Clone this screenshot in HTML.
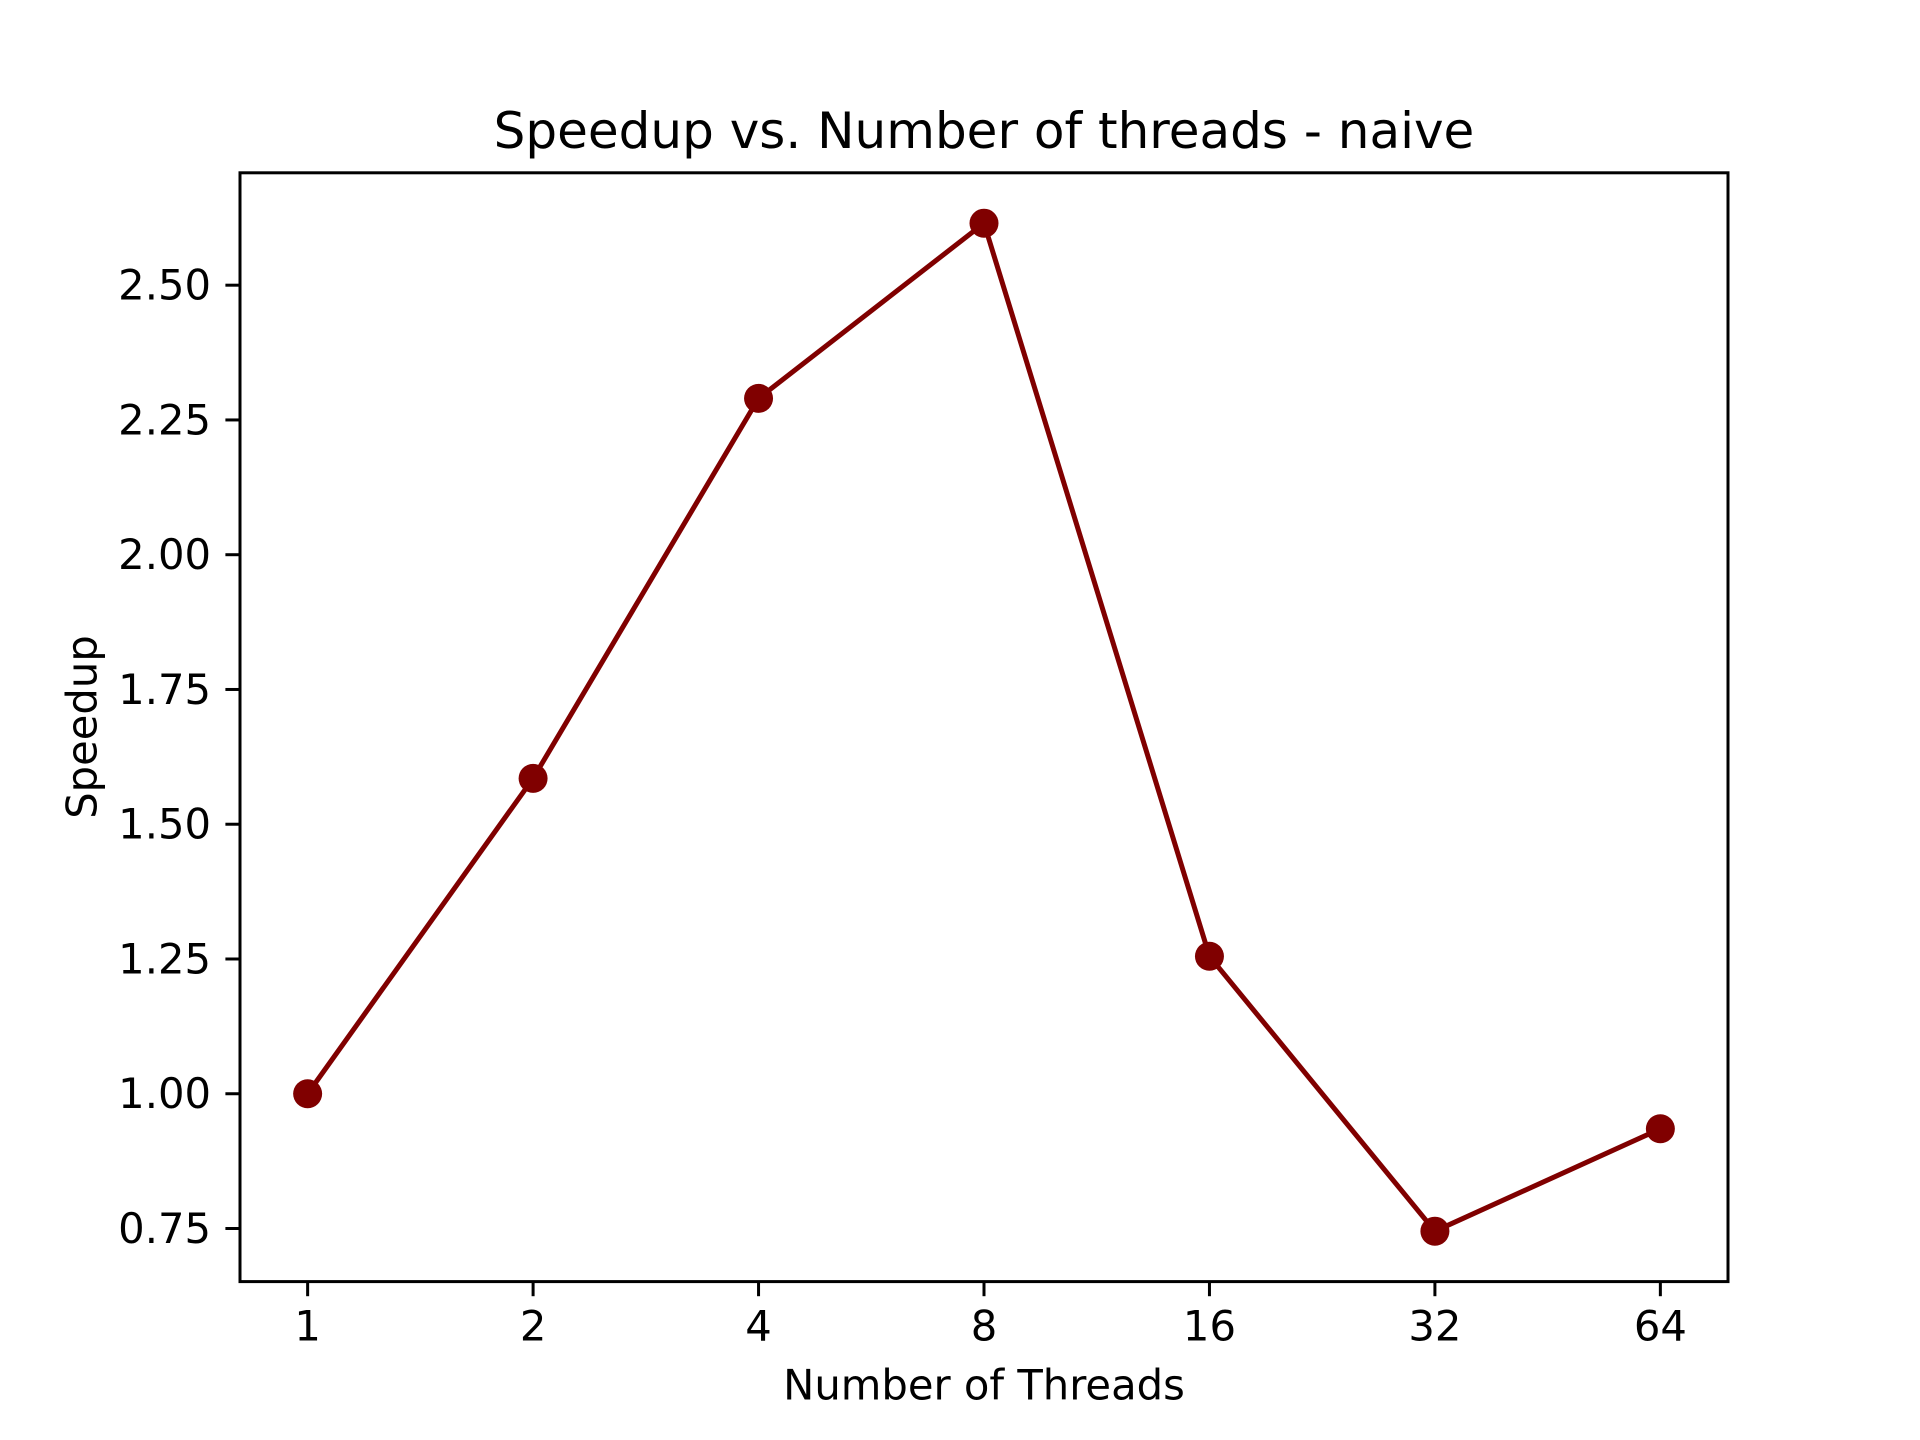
<!DOCTYPE html>
<html><head><meta charset="utf-8"><style>
html,body{margin:0;padding:0;background:#fff;}
svg{display:block;font-family:"DejaVu Sans","Liberation Sans",sans-serif;}
</style></head><body>
<svg id="chart" width="1920" height="1440" viewBox="0 0 1920 1440" xmlns="http://www.w3.org/2000/svg">
<rect width="1920" height="1440" fill="#fff"/>
<text x="984" y="131" font-size="50" text-anchor="middle" dominant-baseline="central">Speedup vs. Number of threads - naive</text>
<text x="984" y="1385" font-size="41.7" text-anchor="middle" dominant-baseline="central">Number of Threads</text>
<text x="82" y="727" font-size="41.7" text-anchor="middle" dominant-baseline="central" transform="rotate(-90 82 727)">Speedup</text>
<g id="marks"></g>
<rect x="240" y="172.8" width="1488" height="1108.8" fill="none" stroke="#000" stroke-width="3"/>
</svg>
<script>
const categories = ["1","2","4","8","16","32","64"];
const speedup = [1.00, 1.585, 2.29, 2.615, 1.255, 0.745, 0.935];
const yTicks = [0.75, 1.00, 1.25, 1.50, 1.75, 2.00, 2.25, 2.50];
const yTickLabels = ["0.75","1.00","1.25","1.50","1.75","2.00","2.25","2.50"];

const NS = "http://www.w3.org/2000/svg";
const L = 240, R = 1728, T = 172.8, B = 1281.6;
const n = categories.length;
const xmin = -0.05 * (n - 1), xmax = (n - 1) * 1.05;
const dmin = Math.min(...speedup), dmax = Math.max(...speedup);
const ymin = dmin - 0.05 * (dmax - dmin), ymax = dmax + 0.05 * (dmax - dmin);
function xs(i){ return L + (i - xmin) / (xmax - xmin) * (R - L); }
function ys(v){ return B - (v - ymin) / (ymax - ymin) * (B - T); }
const g = document.getElementById('marks');
function mk(tag, attrs){ const e = document.createElementNS(NS, tag); for (const k in attrs) e.setAttribute(k, attrs[k]); g.appendChild(e); return e; }

yTicks.forEach((v, i) => {
  const y = ys(v);
  const t = mk('line', {x1: L - 14.6, x2: L, y1: y, y2: y, stroke: '#000', 'stroke-width': 3});
  
  
  const lb = mk('text', {x: L - 29, y: y, 'font-size': 41.7, 'text-anchor': 'end', 'dominant-baseline': 'central'});
  lb.textContent = yTickLabels[i];
  
  
});
categories.forEach((c, i) => {
  const x = xs(i);
  const t = mk('line', {x1: x, x2: x, y1: B, y2: B + 14.6, stroke: '#000', 'stroke-width': 3});
  
  
  const lb = mk('text', {x: x, y: 1326, 'font-size': 41.7, 'text-anchor': 'middle', 'dominant-baseline': 'central'});
  lb.textContent = c;
  
  
});
const pts = speedup.map((v, i) => xs(i) + ',' + ys(v)).join(' ');
const line = mk('polyline', {points: pts, fill: 'none', stroke: '#800000', 'stroke-width': 5, 'stroke-linejoin': 'round'});


speedup.forEach((v, i) => {
  const c = mk('circle', {cx: xs(i), cy: ys(v), r: 14.5, fill: '#800000'});
  
  
});
</script>
</body></html>
